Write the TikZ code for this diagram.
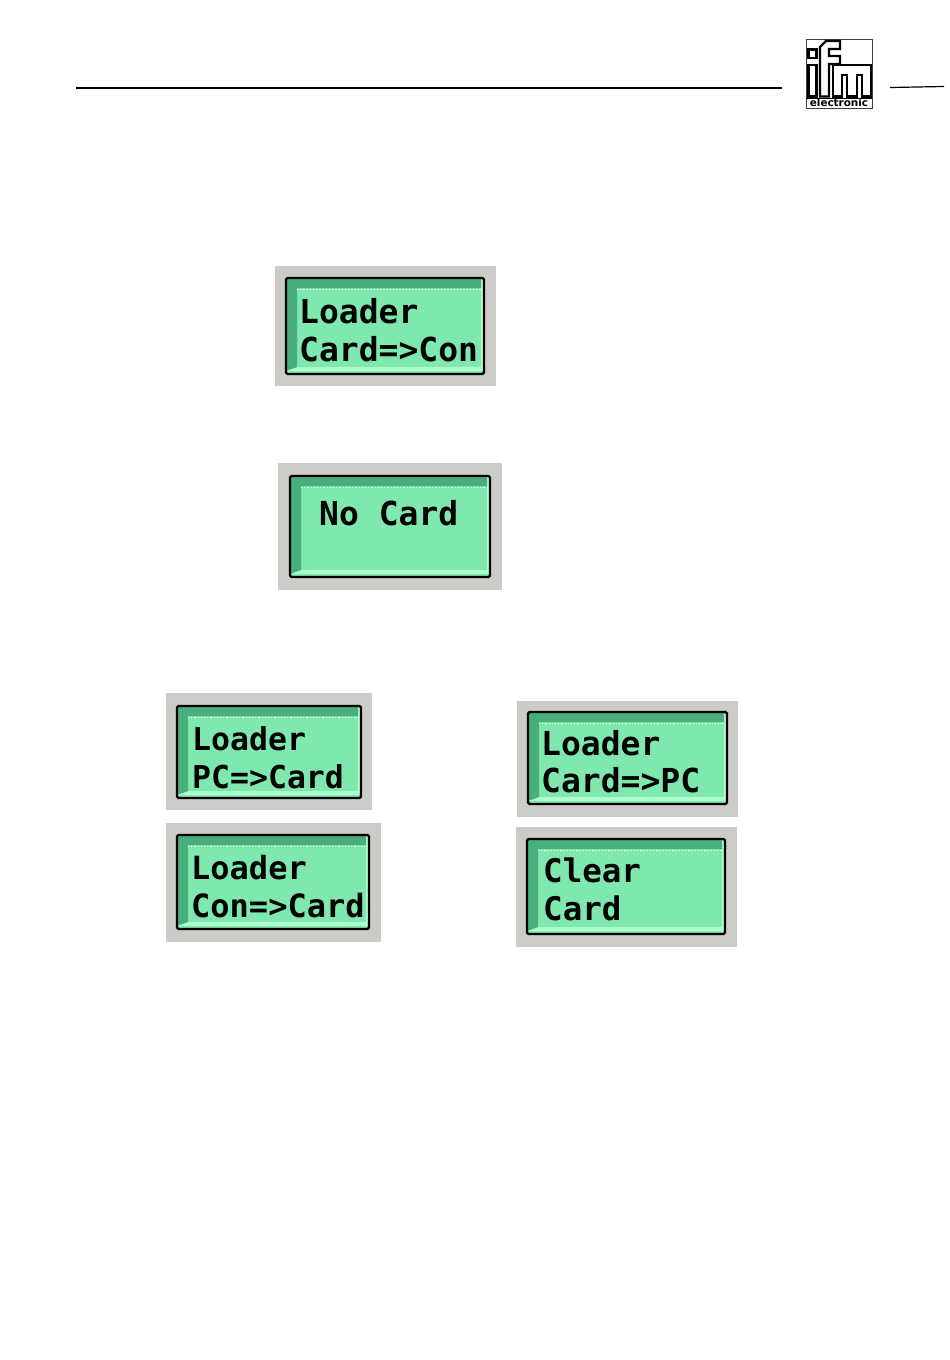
\documentclass[tikz,border=0pt]{standalone}
\usepackage{fontspec}
\newfontfamily\lcdfont{DejaVu Sans Mono}
\newfontfamily\logofont{DejaVu Sans}
\usepackage{tikz}
\definecolor{lcdgrey}{HTML}{CBCBC7}
\definecolor{lcdgreen}{HTML}{7FE8AE}
\definecolor{lcddark}{HTML}{48AE7C}
\definecolor{lcdlight}{HTML}{AEFFD0}
\tikzset{
  lcdtext/.style={font=\lcdfont\bfseries\fontsize{#1}{#1}\selectfont, anchor=base west, inner sep=0pt},
  logoline/.style={line width=2.2pt, line join=miter},
  headline/.style={line width=1.6pt}
}
\begin{document}
\begin{tikzpicture}[x=1pt,y=-1pt]
     \useasboundingbox (0,0) rectangle (950,1360);
     \fill[white] (0,0) rectangle (950,1360);

      % draw header lines
      \coordinate (headA) at (76,88);
      \coordinate (headB) at (782,88);
      \coordinate (headC) at (890,87.5);
      \coordinate (headD) at (944,86.5);
      \draw[headline] (headA) -- (headB);
      \draw[line width=1.2pt] (headC) -- (headD);

      % draw logo
      \draw[line width=1pt, black!75] (806,39.5) rectangle (872,108);
      \draw[logoline] (808.5,49.5) rectangle (816.5,58);
      \draw[logoline] (808.5,65) -- (816.5,65) -- (816.5,96.5) -- (808.5,96.5) -- cycle;
      \draw[logoline] (820,96.5) -- (820,47) -- (826,41) -- (840,41)
          -- (840,49) -- (829,49) -- (829,56) -- (840,56) -- (840,64) -- (829,64)
          -- (829,96.5) -- cycle;
      \draw[logoline] (833,96.5) -- (833,65) -- (871,65) -- (871,96.5) -- (862,96.5)
          -- (862,75) -- (857,75) -- (857,96.5) -- (847,96.5) -- (847,75)
          -- (842,75) -- (842,96.5) -- cycle;
      \draw[line width=1.2pt] (806,98.5) -- (872,98.5);
      \node[font=\logofont\bfseries\fontsize{10.4}{11}\selectfont, inner sep=0pt] (logotext) at (839,103) {electronic};

      % draw panels
      \foreach \gl/\gt/\gr/\gb/\bl/\bt/\br/\bb in {
          275/266/496/386/286/278/484/374,
          278/463/502/590/290/476/490/577,
          166/693/372/810/177/706/361/798,
          166/823/381/942/177/835/369/929,
          517/701/738/817/528/712/727/804,
          516/827/737/947/527/839/725/934}
      {
        \fill[lcdgrey] (\gl,\gt) rectangle (\gr,\gb);
        \fill[lcdgreen] (\bl,\bt) rectangle (\br,\bb);
        \fill[lcdlight] (\bl,\bb-3) -- (\br,\bb-3) -- (\br,\bt) -- (\br-3,\bt) -- (\br-3,\bb-7) -- (\bl+11,\bb-7) -- cycle;
        \fill[lcddark] (\bl,\bt) -- (\br-3,\bt) -- (\br-3,\bt+10) -- (\bl+11,\bt+10) -- (\bl+11,\bb-7) -- (\bl,\bb-3) -- cycle;
        \draw[white, line width=1.2pt, dotted] (\bl+11,\bt+11.5) -- (\br-3,\bt+11.5);
        \draw[line width=2.4pt, rounded corners=1.5pt] (\bl,\bt) rectangle (\br,\bb);
      }

      % draw texts
      \node[lcdtext=33] (loaderA) at (299,323) {Loader};
      \node[lcdtext=33] (cardcon) at (299,361) {Card=>Con};
      \node[lcdtext=33] (nocard) at (319,525) {No Card};
      \node[lcdtext=31.5] (loaderB) at (192,750) {Loader};
      \node[lcdtext=31.5] (pccard) at (192,788) {PC=>Card};
      \node[lcdtext=32] (loaderC) at (191,879) {Loader};
      \node[lcdtext=32] (concard) at (191,917) {Con=>Card};
      \node[lcdtext=33] (loaderD) at (541,755) {Loader};
      \node[lcdtext=33] (cardpc) at (541,792) {Card=>PC};
      \node[lcdtext=32.5] (clear) at (543,882) {Clear};
      \node[lcdtext=32.5] (card) at (543,920) {Card};
\end{tikzpicture}
\end{document}
